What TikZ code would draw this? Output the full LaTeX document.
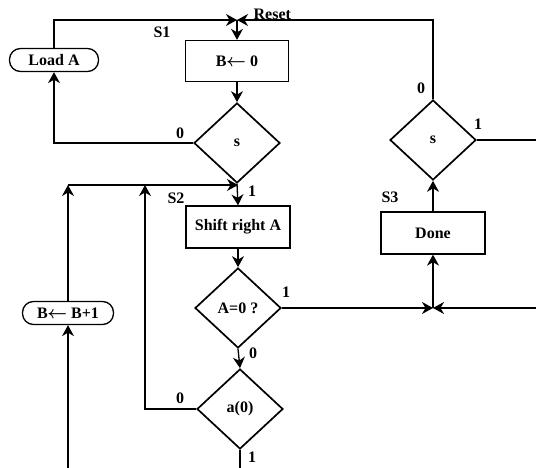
\documentclass[tikz,border=0pt]{standalone}
\usepackage{fontspec}
\setmainfont{Liberation Serif}
\usetikzlibrary{shapes.geometric,arrows.meta}
\newcommand{\getsarrow}{\kern-0.5pt{\boldmath$\leftarrow$}}
\begin{document}
\begin{tikzpicture}[x=1pt,y=-1pt,
  line width=1.3pt,
  font=\fontsize{16}{19}\selectfont\bfseries,
  flow/.style={-{Stealth[length=11pt,width=12pt,inset=3.5pt]}},
  stepbox/.style={draw,rectangle,minimum width=104pt,minimum height=42pt,inner sep=0pt},
  roundbox/.style={draw,rectangle,rounded corners=11pt,minimum height=23pt,inner sep=0pt},
  test/.style={draw,diamond,minimum width=86pt,minimum height=80pt,inner sep=0pt,line width=1.7pt},
  tag/.style={inner sep=0pt}]
\useasboundingbox (0,0) rectangle (536,468);

% state boxes
\node[stepbox,minimum width=103pt,minimum height=41pt] (b0) at (237,61) {B\getsarrow\ 0};
\node[stepbox] (shift) at (238,227) {Shift right A};
\node[stepbox] (done) at (433,233) {Done};
\node[roundbox,minimum width=89pt] (load) at (54,60) {Load A};
\node[roundbox,minimum width=91pt] (inc) at (68,313) {B\getsarrow\ B+1};

% decisions
\node[test] (s1) at (237,143) {s};
\node[test] (s2) at (433,140) {s};
\node[test] (az) at (238,308) {A=0 ?};
\node[test] (a0) at (240,409) {a(0)};

% state and branch labels
\node[tag] (lS1) at (162,32) {S1};
\node[tag] (lS2) at (176,198) {S2};
\node[tag] (lS3) at (390,197) {S3};
\node[tag,anchor=south west] (lreset) at (253,20) {Reset};
\node[tag] (l1) at (180,133) {0};
\node[tag] (l2) at (252,191) {1};
\node[tag] (l3) at (421,88) {0};
\node[tag] (l4) at (478,124) {1};
\node[tag] (l5) at (286,292) {1};
\node[tag] (l6) at (253,353) {0};
\node[tag] (l7) at (180,398) {0};
\node[tag] (l8) at (252,457) {1};

% junction points and free ends
\coordinate (reset) at (237,20);
\coordinate (join) at (238,185);
\coordinate (incup) at (68,185);
\coordinate (shiftloop) at (145,185);
\coordinate (donejoin) at (433,308);
\coordinate (rightin) at (536,308);
\coordinate (s2out) at (536,140);
\coordinate (incin) at (68,468);
\coordinate (a0out) at (240,468);

% S1 loop
\draw[flow] (load.north) |- (reset);
\draw[flow] (s2.north) |- (reset);
\draw[flow] (reset) -- (b0.north);
\draw[flow] (b0.south) -- (s1.north);
\draw[flow] (s1.west) -| (load.south);

% into S2
\draw[flow] (s1.south) -- (shift.north);
\draw[flow] (incup) -- (join);
\draw[flow] (inc.north) -- (incup);
\draw[flow] (incin) -- (inc.south);
\draw[flow] (a0.west) -| (shiftloop);
\draw[flow] (shift.south) -- (az.north);
\draw[flow] (az.south) -- (a0.north);
\draw (a0.south) -- (a0out);

% into S3
\draw[flow] (az.east) -- (donejoin);
\draw[flow] (rightin) -- (donejoin);
\draw[flow] (donejoin) -- (done.south);
\draw[flow] (done.north) -- (s2.south);
\draw (s2.east) -- (s2out);
\end{tikzpicture}
\end{document}
